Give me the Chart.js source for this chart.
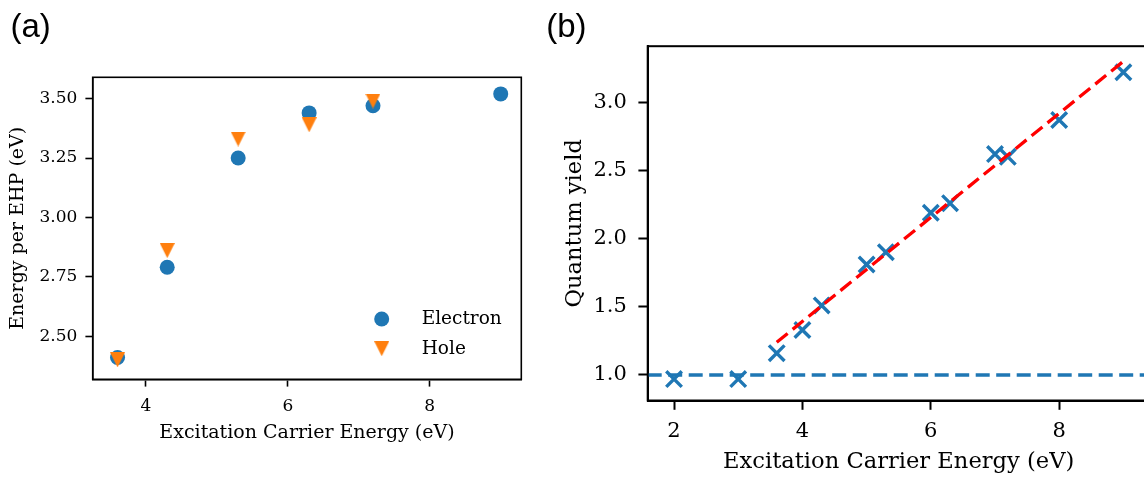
<!DOCTYPE html>
<html>
<head>
<meta charset="utf-8">
<script src="https://cdn.jsdelivr.net/npm/chart.js@4.4.0/dist/chart.umd.min.js"></script>
<style>
  html, body { margin: 0; padding: 0; background: #fff; overflow: hidden; }
  body { width: 1144px; height: 479px; position: relative; }
  .panel { position: absolute; top: 0; height: 479px; }
  #boxA { left: 0; width: 540px; }
  #boxB { left: 540px; width: 620px; }
</style>
</head>
<body>
<div class="panel" id="boxA"><canvas id="chartA"></canvas></div>
<div class="panel" id="boxB"><canvas id="chartB"></canvas></div>
<script>
// (a) energy per electron-hole pair
const electronEnergy = [3.6, 4.3, 5.3, 6.3, 7.2, 9.0];
const electronEHP = [2.41, 2.79, 3.25, 3.44, 3.47, 3.52];
const holeEnergy = [3.6, 4.3, 5.3, 6.3, 7.2];
const holeEHP = [2.40, 2.86, 3.33, 3.39, 3.49];
const xTicksA = [4, 6, 8];
const yTicksA = [2.50, 2.75, 3.00, 3.25, 3.50];

// (b) quantum yield vs carrier energy
const carrierEnergy = [2, 3, 3.6, 4, 4.3, 5, 5.3, 6, 6.3, 7, 7.2, 8, 9];
const quantumYield = [0.97, 0.97, 1.16, 1.33, 1.51, 1.81, 1.90, 2.19, 2.26, 2.62, 2.60, 2.87, 3.22];
const fitEnergy = [3.6, 9.0];
const fitYield = [1.24, 3.30];
const unityYield = 1.0;
const xTicksB = [2, 4, 6, 8];
const yTicksB = [1.0, 1.5, 2.0, 2.5, 3.0];

// axis limits
const xLimA = [3.25, 9.29], yLimA = [2.318, 3.59];
const xLimB = [1.59, 9.41], yLimB = [0.813, 3.411];

const BLUE = '#1f77b4', ORANGE = '#ff7f0e', RED = '#ff0000';
const SERIF = '"DejaVu Serif", serif';

Chart.defaults.color = '#000';
Chart.defaults.font.family = SERIF;

const pairs = (xs, ys) => xs.map((x, i) => ({ x: x, y: ys[i] }));

// downward triangle marker
function triangleDown(size, color) {
  const c = document.createElement('canvas');
  c.width = size; c.height = size;
  const g = c.getContext('2d');
  g.fillStyle = color;
  g.beginPath();
  g.moveTo(0, 0);
  g.lineTo(size, 0);
  g.lineTo(size / 2, size);
  g.closePath();
  g.fill();
  return c;
}

// frame, panel letter and in-axes legend
const decor = {
  id: 'decor',
  afterDatasetsDraw(chart, args, opts) {
    const { ctx, chartArea } = chart;
    ctx.save();
    ctx.strokeStyle = '#000';
    ctx.lineWidth = opts.frame;
    ctx.strokeRect(chartArea.left, chartArea.top, chartArea.right - chartArea.left, chartArea.bottom - chartArea.top);

    ctx.fillStyle = '#000';
    ctx.font = '33px "Liberation Sans", Arial, sans-serif';
    ctx.textBaseline = 'alphabetic';
    ctx.textAlign = 'left';
    ctx.fillText(opts.label, opts.labelX, 36.5);

    if (opts.legend) {
      const lg = opts.legend;
      ctx.font = lg.size + 'px ' + SERIF;
      ctx.textBaseline = 'middle';
      chart.data.datasets.forEach((ds, i) => {
        const y = chartArea.bottom - lg.firstRow + i * lg.step;
        const x = chartArea.right - lg.markerGap;
        ctx.fillStyle = ds.backgroundColor;
        ctx.strokeStyle = ds.backgroundColor;
        Chart.helpers.drawPoint(ctx, { pointStyle: ds.pointStyle, radius: ds.pointRadius, borderWidth: 0, rotation: 0 }, x, y);
        ctx.fillStyle = '#000';
        ctx.fillText(ds.label, chartArea.right - lg.textGap, y);
      });
    }
    ctx.restore();
  }
};

function axis(lim, ticks, fmt, o) {
  return {
    type: 'linear',
    min: lim[0],
    max: lim[1],
    afterBuildTicks: s => { s.ticks = ticks.map(v => ({ value: v })); },
    afterFit: s => { if (o.w) s.width = o.w; if (o.h) s.height = o.h; },
    ticks: {
      autoSkip: false, maxRotation: 0, padding: o.pad,
      font: { size: o.size }, color: '#000',
      callback: v => fmt(v)
    },
    grid: { drawOnChartArea: false, drawTicks: true, tickLength: o.tick, tickWidth: o.line, tickColor: '#000' },
    border: { display: true, color: '#000', width: o.line },
    title: { display: true, text: o.title, font: { size: o.titleSize }, color: '#000', padding: o.titlePad }
  };
}

new Chart(document.getElementById('chartA'), {
  type: 'scatter',
  data: {
    datasets: [
      {
        label: 'Electron',
        data: pairs(electronEnergy, electronEHP),
        pointStyle: 'circle', pointRadius: 7.5, pointBorderWidth: 0,
        backgroundColor: BLUE, borderColor: BLUE, order: 1
      },
      {
        label: 'Hole',
        data: pairs(holeEnergy, holeEHP),
        pointStyle: triangleDown(15, ORANGE), pointRadius: 7.5, pointBorderWidth: 0,
        backgroundColor: ORANGE, borderColor: ORANGE, order: 0
      }
    ]
  },
  options: {
    responsive: true, maintainAspectRatio: false, animation: false,
    layout: { autoPadding: false, padding: { left: 0, top: 77.3, right: 18.7, bottom: 0 } },
    scales: {
      x: axis(xLimA, xTicksA, v => String(v), {
        h: 99.7, pad: 10, size: 17, tick: 7.3, line: 1.6,
        title: 'Excitation Carrier Energy (eV)', titleSize: 19, titlePad: { top: 0, bottom: 34.6 }
      }),
      y: axis(yLimA, yTicksA, v => v.toFixed(2), {
        w: 92.7, pad: 8, size: 17, tick: 7.3, line: 1.6,
        title: 'Energy per EHP (eV)', titleSize: 19, titlePad: { top: 6.6, bottom: 0 }
      })
    },
    plugins: {
      legend: { display: false },
      tooltip: { enabled: false },
      decor: {
        frame: 1.6, label: '(a)', labelX: 10.4,
        legend: { size: 18.5, firstRow: 60.3, step: 29.7, markerGap: 139.6, textGap: 99.6 }
      }
    }
  },
  plugins: [decor]
});

new Chart(document.getElementById('chartB'), {
  type: 'scatter',
  data: {
    datasets: [
      {
        label: 'fit',
        data: pairs(fitEnergy, fitYield),
        showLine: true, pointRadius: 0, borderColor: RED, borderWidth: 3.3,
        borderDash: [14, 6.5], order: 0
      },
      {
        label: 'QY',
        data: pairs(carrierEnergy, quantumYield),
        pointStyle: 'crossRot', pointRadius: 11, pointBorderWidth: 3.4,
        borderColor: BLUE, backgroundColor: BLUE, order: 1
      },
      {
        label: 'unity',
        data: pairs(xLimB, [unityYield, unityYield]),
        showLine: true, pointRadius: 0, borderColor: BLUE, borderWidth: 3.3,
        borderDash: [14, 6.5], order: 2
      }
    ]
  },
  options: {
    responsive: true, maintainAspectRatio: false, animation: false,
    layout: { autoPadding: false, padding: { left: 0, top: 46.2, right: 10.3, bottom: 0 } },
    scales: {
      x: axis(xLimB, xTicksB, v => String(v), {
        h: 78.5, pad: 8.7, size: 21, tick: 9.3, line: 2,
        title: 'Excitation Carrier Energy (eV)', titleSize: 22.6, titlePad: { top: 0, bottom: 3.4 }
      }),
      y: axis(yLimB, yTicksB, v => v.toFixed(1), {
        w: 107.7, pad: 11.6, size: 21, tick: 9.3, line: 2,
        title: 'Quantum yield', titleSize: 22.6, titlePad: { top: 21.4, bottom: 0 }
      })
    },
    plugins: {
      legend: { display: false },
      tooltip: { enabled: false },
      decor: { frame: 2, label: '(b)', labelX: 6.2, legend: null }
    }
  },
  plugins: [decor]
});
</script>
</body>
</html>
